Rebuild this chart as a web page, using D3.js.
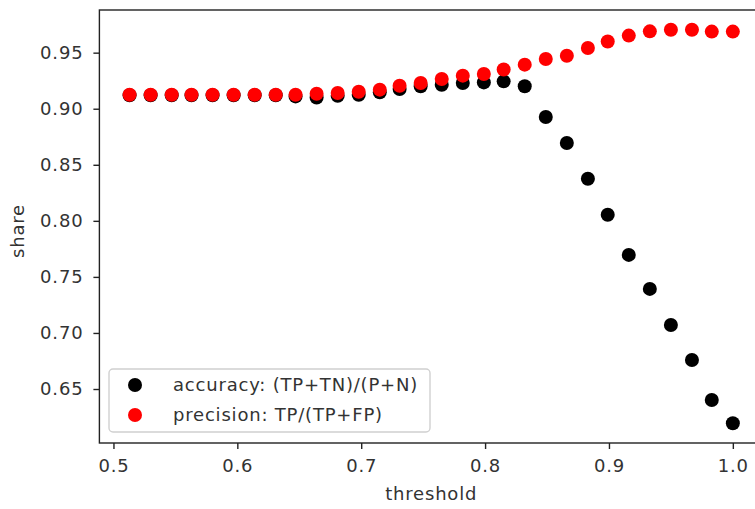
<!DOCTYPE html>
<html>
<head>
<meta charset="utf-8">
<script src="https://cdn.jsdelivr.net/npm/d3@7"></script>
<style>
  html, body { margin: 0; padding: 0; background: #fff; overflow: hidden; }
  svg { display: block; font-family: "DejaVu Sans", sans-serif; }
  text { letter-spacing: 0.8px; }
</style>
</head>
<body>
<svg width="755" height="509"></svg>
<script>
  // thresholds (x)
  const thresholds = [0.513, 0.530, 0.547, 0.563, 0.580, 0.597, 0.614, 0.631, 0.647, 0.664,
    0.681, 0.698, 0.715, 0.731, 0.748, 0.765, 0.782, 0.799, 0.815, 0.832,
    0.849, 0.866, 0.883, 0.899, 0.916, 0.933, 0.950, 0.967, 0.983, 1.000];

  const accuracy = [0.912, 0.912, 0.912, 0.912, 0.912, 0.912, 0.912, 0.912, 0.911, 0.910,
    0.9115, 0.9125, 0.9146, 0.9176, 0.920, 0.9214, 0.923, 0.9235, 0.9244, 0.920,
    0.8926, 0.8694, 0.8375, 0.8054, 0.7696, 0.7393, 0.7071, 0.6759, 0.6402, 0.6194];

  const precision = [0.9125, 0.9125, 0.9125, 0.9125, 0.9125, 0.9125, 0.9125, 0.9125, 0.9125, 0.9134,
    0.914, 0.9152, 0.917, 0.9205, 0.923, 0.9265, 0.9295, 0.931, 0.935, 0.9393,
    0.9444, 0.9473, 0.9542, 0.960, 0.9652, 0.969, 0.9705, 0.9705, 0.9688, 0.9688];

  const xTicks = [0.5, 0.6, 0.7, 0.8, 0.9, 1.0];
  const yTicks = [0.65, 0.70, 0.75, 0.80, 0.85, 0.90, 0.95];

  const seriesNames = ['accuracy: (TP+TN)/(P+N)', 'precision: TP/(TP+FP)'];
  const seriesColors = ['#000000', '#ff0000'];

  const svg = d3.select('svg');
  const textColor = '#333';
  const fontSize = 18;

  const plotLeft = 99.4, plotRight = 763, plotTop = 10, plotBottom = 443;

  // matplotlib-style 5% margins around the data
  const pad = ([lo, hi]) => [lo - (hi - lo) * 0.05, hi + (hi - lo) * 0.05];
  const allY = accuracy.concat(precision);

  const x = d3.scaleLinear()
    .domain(pad(d3.extent(thresholds)))
    .range([plotLeft, plotRight]);
  const y = d3.scaleLinear()
    .domain(pad(d3.extent(allY)))
    .range([plotBottom, plotTop]);

  // axes
  const xAxis = svg.append('g')
    .attr('transform', `translate(0,${plotBottom})`)
    .call(d3.axisBottom(x).tickValues(xTicks).tickFormat(d3.format('.1f'))
      .tickSize(6).tickPadding(10).tickSizeOuter(0));
  const yAxis = svg.append('g')
    .attr('transform', `translate(${plotLeft},0)`)
    .call(d3.axisLeft(y).tickValues(yTicks).tickFormat(d3.format('.2f'))
      .tickSize(6).tickPadding(10).tickSizeOuter(0));

  [xAxis, yAxis].forEach(a => {
    a.select('.domain').remove();
    a.selectAll('.tick line').attr('stroke', '#222').attr('stroke-width', 1.4);
    a.selectAll('.tick text')
      .attr('fill', textColor)
      .style('font-size', fontSize + 'px')
      .style('font-family', '"DejaVu Sans", sans-serif');
  });

  // frame
  svg.append('rect')
    .attr('x', plotLeft).attr('y', plotTop)
    .attr('width', plotRight - plotLeft).attr('height', plotBottom - plotTop)
    .attr('fill', 'none')
    .attr('stroke', '#222')
    .attr('stroke-width', 1.4);

  // axis labels
  svg.append('text')
    .attr('x', (plotLeft + plotRight) / 2).attr('y', 500)
    .attr('text-anchor', 'middle')
    .attr('fill', textColor)
    .style('font-size', fontSize + 'px')
    .text('threshold');

  svg.append('text')
    .attr('transform', 'translate(24,231) rotate(-90)')
    .attr('text-anchor', 'middle')
    .attr('fill', textColor)
    .style('font-size', fontSize + 'px')
    .text('share');

  // points: accuracy under precision
  const plot = svg.append('g');
  [accuracy, precision].forEach((series, k) => {
    plot.selectAll('.s' + k)
      .data(series)
      .enter().append('circle')
        .attr('class', 's' + k)
        .attr('cx', (d, i) => x(thresholds[i]))
        .attr('cy', d => y(d))
        .attr('r', 7)
        .attr('fill', seriesColors[k]);
  });

  // legend
  const legend = svg.append('g').attr('transform', 'translate(109,369)');
  legend.append('rect')
    .attr('width', 321).attr('height', 63)
    .attr('rx', 4)
    .attr('fill', 'rgba(255,255,255,0.8)')
    .attr('stroke', '#d0d0d0')
    .attr('stroke-width', 1.4);

  const items = legend.selectAll('.item')
    .data(seriesNames)
    .enter().append('g')
      .attr('class', 'item')
      .attr('transform', (d, i) => `translate(0,${16 + i * 30})`);
  items.append('circle')
    .attr('cx', 26).attr('r', 7)
    .attr('fill', (d, i) => seriesColors[i]);
  items.append('text')
    .attr('x', 64).attr('dy', '0.35em')
    .attr('fill', textColor)
    .style('font-size', fontSize + 'px')
    .text(d => d);
</script>
</body>
</html>
